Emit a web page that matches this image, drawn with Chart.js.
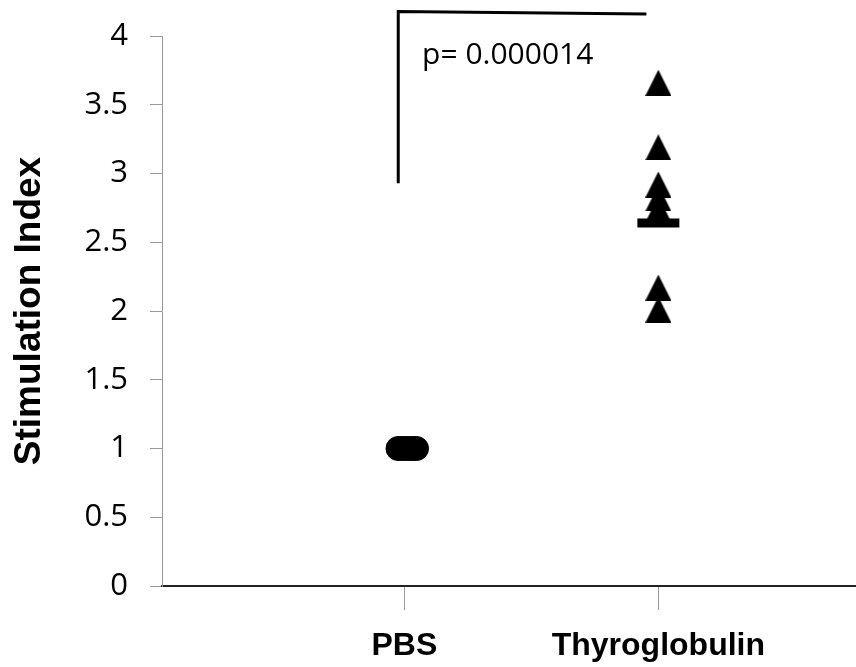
<!DOCTYPE html>
<html>
<head>
<meta charset="utf-8">
<script src="https://cdn.jsdelivr.net/npm/chart.js@4"></script>
<style>
  body { margin: 0; background: #fff; }
  #chart { display: block; }
</style>
</head>
<body>
<canvas id="chart" width="856" height="667"></canvas>
<script>
// categories on the x axis (placed at x = 1 and x = 2)
const categories = ['PBS', 'Thyroglobulin'];

// PBS group: all at 1, spread a little sideways
const pbsValues = [1, 1, 1, 1, 1, 1];
const pbsX = [0.975, 0.99, 1.005, 1.02, 1.035, 1.048];

// Thyroglobulin group
const thyroValues = [3.66, 3.19, 2.92, 2.82, 2.74, 2.17, 2.01];
const thyroMean = [2.64];

const yTicks = [0, 0.5, 1, 1.5, 2, 2.5, 3, 3.5, 4];

// significance bracket and label
const bracketX = [0.976, 0.976, 1.953];
const bracketY = [2.93, 4.178, 4.16];
const pText = 'p= 0.000014';
const pTextPos = [1.07, 3.86];

// triangle marker, a bit taller than equilateral
function makeTriangle(w, h) {
    const c = document.createElement('canvas');
    c.width = w;
    c.height = h;
    const g = c.getContext('2d');
    g.fillStyle = '#000';
    g.beginPath();
    g.moveTo(w / 2, 0);
    g.lineTo(w, h);
    g.lineTo(0, h);
    g.closePath();
    g.fill();
    return c;
}
const triangle = makeTriangle(26, 26);

const pLabel = {
    id: 'pLabel',
    afterDatasetsDraw(chart) {
        const ctx = chart.ctx;
        const x = chart.scales.x.getPixelForValue(pTextPos[0]);
        const y = chart.scales.y.getPixelForValue(pTextPos[1]);
        ctx.save();
        ctx.font = '30px "Open Sans"';
        ctx.fillStyle = '#000';
        ctx.textAlign = 'left';
        ctx.textBaseline = 'middle';
        ctx.fillText(pText, x, y);
        ctx.restore();
    }
};

new Chart(document.getElementById('chart'), {
    type: 'scatter',
    data: {
        datasets: [
            {
                label: 'mean',
                data: thyroMean.map(v => ({ x: 2, y: v })),
                pointStyle: 'line',
                pointRadius: 21,
                borderWidth: 9,
                borderColor: '#000',
                backgroundColor: '#000'
            },
            {
                label: categories[1],
                data: thyroValues.map(v => ({ x: 2, y: v })),
                pointStyle: triangle,
                pointRadius: 13,
                backgroundColor: '#000',
                borderColor: '#000'
            },
            {
                label: categories[0],
                data: pbsValues.map((v, i) => ({ x: pbsX[i], y: v })),
                pointStyle: 'circle',
                pointRadius: 12,
                borderWidth: 1,
                backgroundColor: '#000',
                borderColor: '#000'
            },
            {
                label: 'bracket',
                data: bracketX.map((x, i) => ({ x: x, y: bracketY[i] })),
                showLine: true,
                pointRadius: 0,
                borderWidth: 3,
                borderColor: '#000',
                clip: false
            }
        ]
    },
    options: {
        responsive: false,
        animation: false,
        events: [],
        layout: { autoPadding: false, padding: { top: 36, right: 0, bottom: 0, left: 0 } },
        plugins: {
            legend: { display: false },
            tooltip: { enabled: false }
        },
        scales: {
            x: {
                type: 'linear',
                min: 0.046,
                max: 2.778,
                afterFit: scale => {
                    scale.height = 81;
                    scale.paddingLeft = 0;
                    scale.paddingRight = 0;
                },
                afterBuildTicks: scale => {
                    scale.ticks = categories.map((c, i) => ({ value: i + 1 }));
                },
                border: { color: '#222', width: 2 },
                grid: {
                    drawOnChartArea: false,
                    drawTicks: true,
                    tickLength: 24,
                    color: '#999'
                },
                ticks: {
                    padding: 17,
                    color: '#000',
                    font: { family: '"Liberation Sans", Arial', size: 32, weight: 'bold' },
                    callback: v => categories[v - 1]
                }
            },
            y: {
                min: 0,
                max: 4,
                afterFit: scale => {
                    scale.width = 162;
                    scale.paddingTop = 0;
                    scale.paddingBottom = 0;
                },
                afterBuildTicks: scale => {
                    scale.ticks = yTicks.map(v => ({ value: v }));
                },
                border: { color: '#999', width: 1 },
                grid: {
                    drawOnChartArea: false,
                    drawTicks: true,
                    tickLength: 12,
                    color: '#999'
                },
                ticks: {
                    padding: 22,
                    color: '#000',
                    font: { family: '"Open Sans"', size: 31 },
                    callback: v => String(v)
                },
                title: {
                    display: true,
                    text: 'Stimulation Index',
                    color: '#000',
                    padding: { top: 8, bottom: 0 },
                    font: { family: '"Liberation Sans", Arial', size: 37, weight: 'bold' }
                }
            }
        }
    },
    plugins: [pLabel]
});
</script>
</body>
</html>
